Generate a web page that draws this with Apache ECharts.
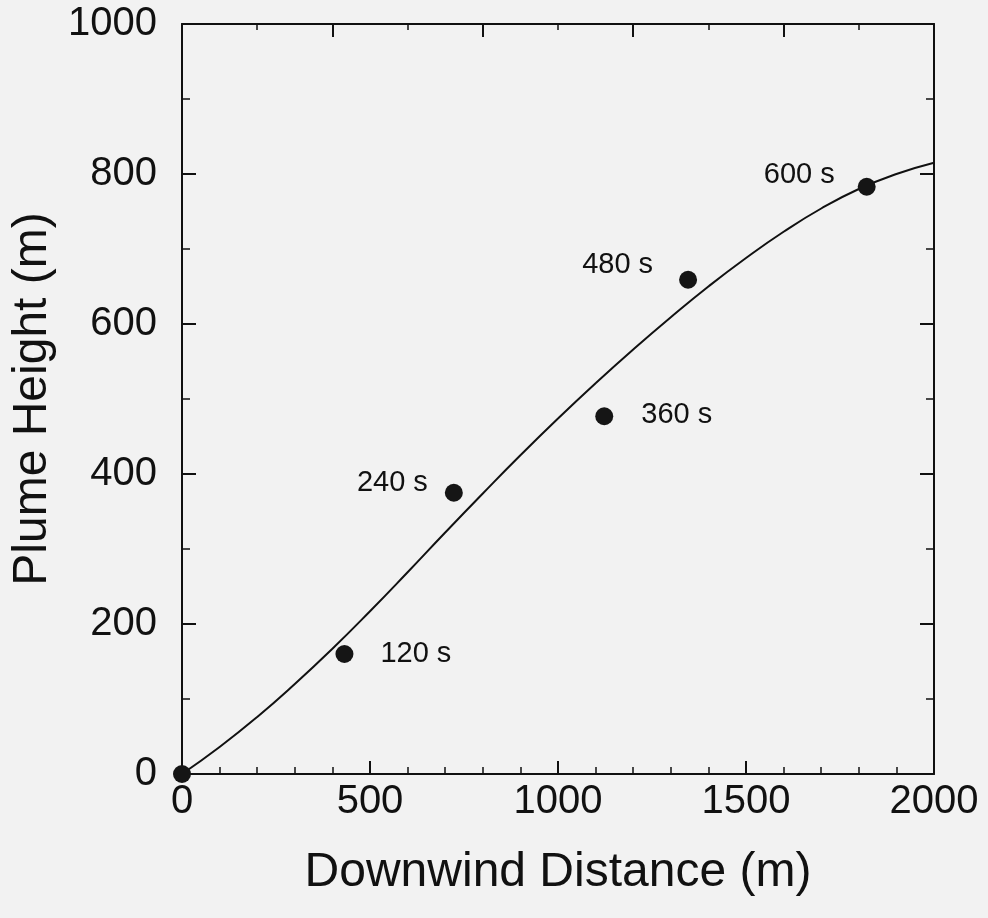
<!DOCTYPE html>
<html>
<head>
<meta charset="utf-8">
<script src="https://cdn.jsdelivr.net/npm/echarts@6/dist/echarts.min.js"></script>
<style>
  html, body { margin: 0; padding: 0; background: #f2f2f2; }
  #chart { width: 988px; height: 918px; }
</style>
</head>
<body>
<div id="chart"></div>
<script>
// Observed plume rise at successive times after release
const obsDistance = [0, 432, 723, 1123, 1346, 1821];
const obsHeight   = [0, 160, 375, 477, 659, 783];
const obsTimes    = ['', '120 s', '240 s', '360 s', '480 s', '600 s'];

// Model plume trajectory
const modelDistance = [0, 100, 200, 300, 400, 500, 600, 700, 800, 900, 1000,
                       1100, 1200, 1300, 1400, 1500, 1600, 1700, 1800, 1900, 2000];
const modelHeight   = [0, 36, 76, 120, 167, 217, 269, 322, 374, 425, 474,
                       521, 566, 609, 650, 688, 723, 754, 780, 800, 815];

// Axis tick values
const xTicks = [0, 500, 1000, 1500, 2000];
const yTicks = [0, 200, 400, 600, 800, 1000];

const FONT = '"Liberation Sans", Arial, Helvetica, sans-serif';
const INK = '#111';

// Where each time label sits relative to its dot
const labelPlacement = [
  null,
  { position: 'right', distance: 27, offset: [0, 0] },
  { position: 'left',  distance: 17, offset: [0, -10] },
  { position: 'right', distance: 28, offset: [0, -1] },
  { position: 'left',  distance: 26, offset: [0, -15] },
  { position: 'left',  distance: 23, offset: [0, -12] }
];

const scatterData = obsDistance.map((x, i) => {
  const item = { value: [x, obsHeight[i]], name: obsTimes[i] };
  const p = labelPlacement[i];
  if (p) {
    item.label = {
      show: true,
      formatter: obsTimes[i],
      position: p.position,
      distance: p.distance,
      offset: p.offset,
      fontSize: 29,
      fontFamily: FONT,
      color: INK
    };
  }
  return item;
});

const lineData = modelDistance.map((x, i) => [x, modelHeight[i]]);

const plain = v => String(v);
const frameLine = { show: true, onZero: false, lineStyle: { color: INK, width: 2 } };

const chart = echarts.init(document.getElementById('chart'), null, { renderer: 'canvas' });
chart.setOption({
  backgroundColor: '#f2f2f2',
  animation: false,
  grid: { left: 182, right: 54, top: 24, bottom: 144, containLabel: false, outerBoundsMode: 'none' },
  xAxis: [
    {
      type: 'value', position: 'bottom',
      min: xTicks[0], max: xTicks[xTicks.length - 1], interval: xTicks[1] - xTicks[0],
      axisLine: frameLine,
      axisTick: { show: true, inside: true, length: 13, lineStyle: { color: INK, width: 2 } },
      minorTick: { show: true, splitNumber: 5, length: 7, lineStyle: { color: INK, width: 1.5 } },
      splitLine: { show: false },
      axisLabel: { fontSize: 40, fontFamily: FONT, color: INK, margin: 8, formatter: plain },
      name: 'Downwind Distance (m)', nameLocation: 'middle', nameGap: 75,
      nameTextStyle: { fontSize: 48, fontFamily: FONT, color: INK }
    },
    {
      type: 'value', position: 'top',
      min: 0, max: 2000, interval: 400,
      axisLine: frameLine,
      axisTick: { show: true, inside: true, length: 13, lineStyle: { color: INK, width: 2 } },
      minorTick: { show: true, splitNumber: 2, length: 6, lineStyle: { color: INK, width: 1.5 } },
      splitLine: { show: false },
      axisLabel: { show: false }
    }
  ],
  yAxis: [
    {
      type: 'value', position: 'left',
      min: yTicks[0], max: yTicks[yTicks.length - 1], interval: yTicks[1] - yTicks[0],
      axisLine: frameLine,
      axisTick: { show: true, inside: true, length: 14, lineStyle: { color: INK, width: 2 } },
      minorTick: { show: true, splitNumber: 2, length: 8, lineStyle: { color: INK, width: 1.5 } },
      splitLine: { show: false },
      axisLabel: { fontSize: 40, fontFamily: FONT, color: INK, margin: 25, formatter: plain },
      name: 'Plume Height (m)', nameLocation: 'middle', nameGap: 124, nameRotate: 90,
      nameTextStyle: { fontSize: 48, fontFamily: FONT, color: INK }
    },
    {
      type: 'value', position: 'right',
      min: 0, max: 1000, interval: 200,
      axisLine: frameLine,
      axisTick: { show: true, inside: true, length: 14, lineStyle: { color: INK, width: 2 } },
      minorTick: { show: true, splitNumber: 2, length: 8, lineStyle: { color: INK, width: 1.5 } },
      splitLine: { show: false },
      axisLabel: { show: false }
    }
  ],
  series: [
    {
      type: 'line',
      data: lineData,
      smooth: 0.5,
      showSymbol: false,
      clip: true,
      lineStyle: { color: INK, width: 2 },
      z: 2
    },
    {
      type: 'scatter',
      data: scatterData,
      symbol: 'circle',
      symbolSize: 18,
      itemStyle: { color: '#151515', opacity: 1 },
      clip: false,
      z: 3
    }
  ]
});
</script>
</body>
</html>
